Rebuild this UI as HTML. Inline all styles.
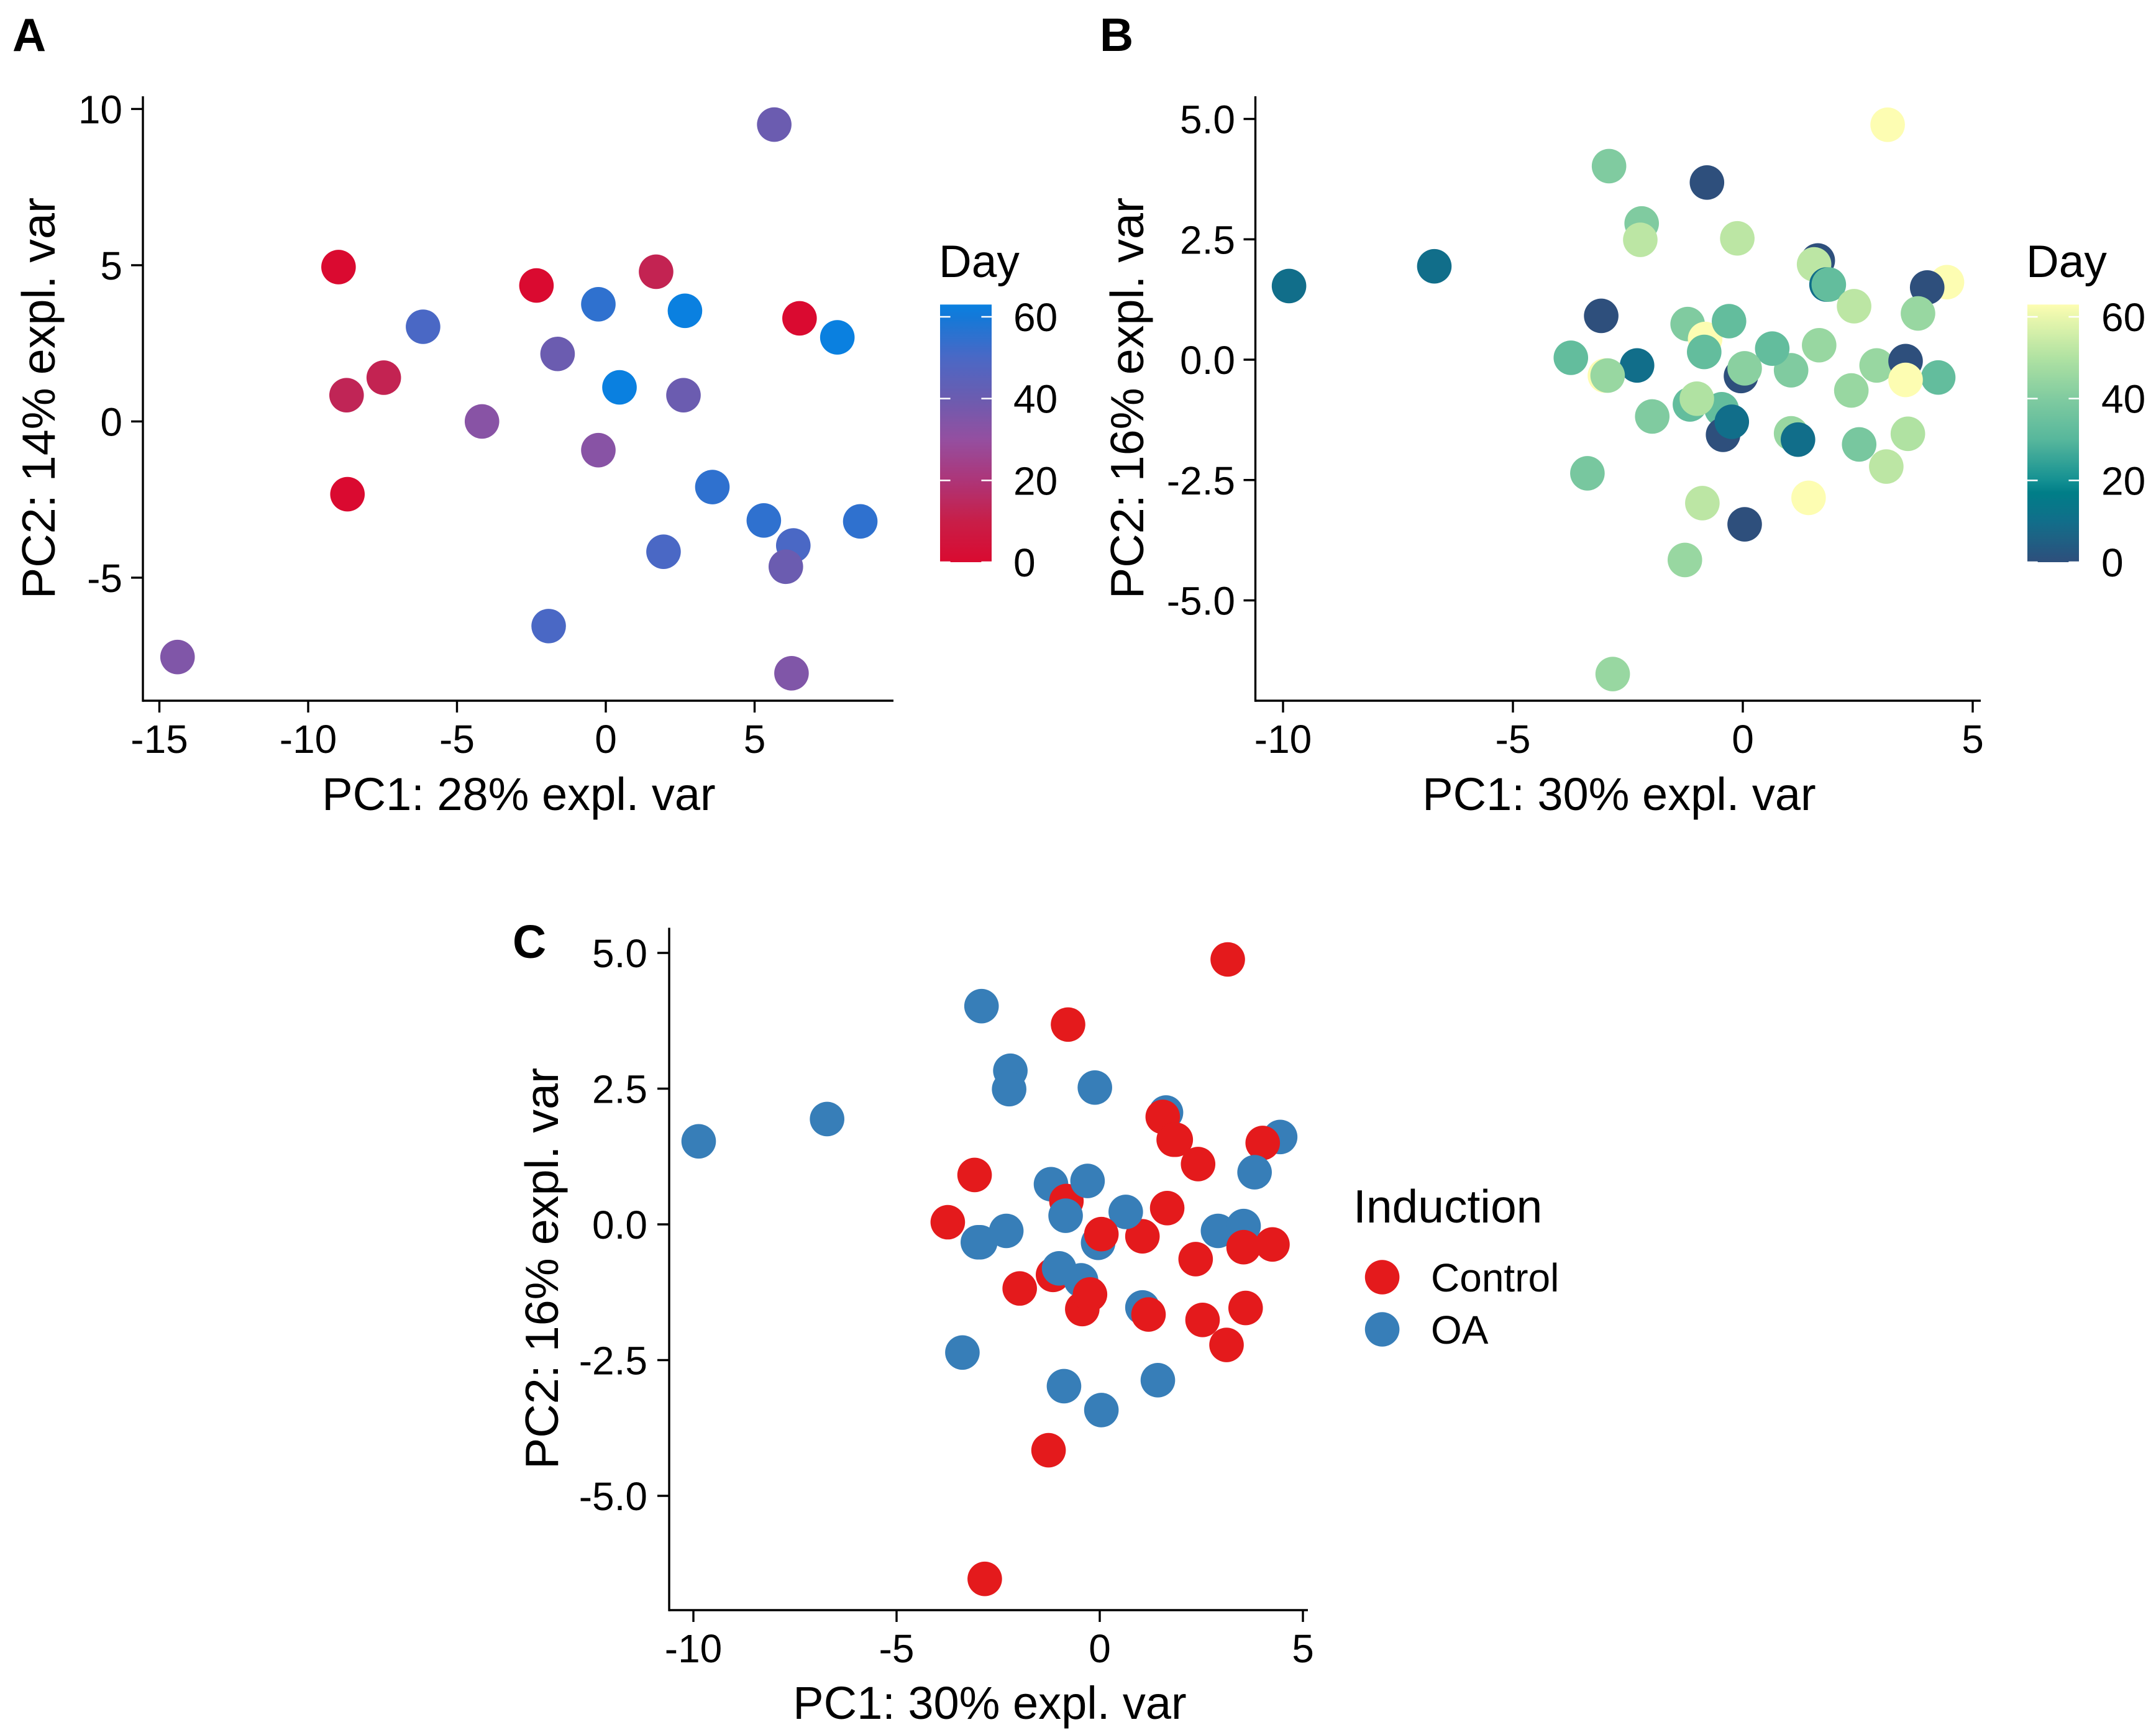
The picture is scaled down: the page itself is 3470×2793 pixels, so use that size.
<!DOCTYPE html>
<html lang="en">
<head>
<meta charset="utf-8">
<title>PCA panels</title>
<style>
html,body{margin:0;padding:0;background:#fff;}
svg{display:block;font-family:"Liberation Sans",Arial,sans-serif;}
</style>
</head>
<body>
<svg id="figure" xmlns="http://www.w3.org/2000/svg" width="3470" height="2793" viewBox="0 0 3470 2793">
<rect x="0" y="0" width="3470" height="2793" fill="#ffffff"/>
<defs id="defs"></defs>
</svg>
<script>
// ---- Panel A data ----
const aPc1 = [5.66,-8.98,-2.33,1.69,-0.25,2.66,6.51,7.78,-6.14,-1.62,-7.46,-8.71,0.46,2.61,-4.16,-0.25,-8.68,3.58,5.31,8.55,6.30,1.94,6.05,-1.92,-14.39,6.24];
const aPc2 = [9.50,4.94,4.35,4.79,3.75,3.54,3.30,2.69,3.03,2.16,1.40,0.84,1.09,0.84,0.00,-0.92,-2.33,-2.10,-3.17,-3.20,-3.97,-4.17,-4.65,-6.55,-7.54,-8.06];
const aDay = [40,0,0,12,55,63,0,63,50,40,12,13,63,40,33,33,0,55,55,55,50,50,40,50,35,35];
const aXTicks = [-15,-10,-5,0,5];
const aYTicks = [-5,0,5,10];

// ---- Panels B and C data (same PCA) ----
const bcPc1 = [3.15,-2.91,-0.78,-2.20,-2.23,-0.12,1.63,1.55,1.82,1.87,2.42,4.44,4.01,3.81,-3.08,-1.20,-0.82,-0.30,-0.84,1.05,0.64,1.66,-3.74,-2.30,-3.00,-2.94,-0.04,0.04,2.91,3.54,4.25,3.54,2.36,-1.97,-1.15,-0.46,-1.00,-0.43,-0.24,1.05,1.20,2.53,3.59,3.12,-3.38,-0.88,1.43,0.04,-1.26,-2.83,-6.71,-9.87];
const bcPc2 = [4.88,4.02,3.68,2.83,2.49,2.52,2.06,1.98,1.56,1.56,1.11,1.61,1.50,0.96,0.91,0.74,0.43,0.80,0.16,-0.22,0.23,0.30,0.04,-0.12,-0.33,-0.33,-0.34,-0.18,-0.12,-0.03,-0.37,-0.42,-0.64,-1.18,-0.93,-1.03,-0.81,-1.56,-1.29,-1.53,-1.66,-1.76,-1.54,-2.22,-2.36,-2.98,-2.87,-3.42,-4.16,-6.53,1.94,1.53];
const bDay = [63,40,0,40,52,52,0,52,10,33,52,63,0,45,0,40,63,33,33,40,33,45,33,10,63,45,0,42,45,0,33,63,45,40,33,33,50,0,10,45,10,38,50,52,38,52,63,0,45,45,10,10];
const cInduction = ["Control","OA","Control","OA","OA","OA","OA","Control","Control","Control","Control","OA","Control","OA","Control","OA","Control","OA","OA","Control","OA","Control","Control","OA","OA","OA","OA","Control","OA","OA","Control","Control","Control","Control","Control","OA","OA","Control","Control","OA","Control","Control","Control","Control","OA","OA","OA","OA","Control","Control","OA","OA"];
const bcXTicks = [-10,-5,0,5];
const bcYTicks = [-5,-2.5,0,2.5,5];

// ---- Legend data ----
const dayTicks = [0,20,40,60];
const dayMax = 63;
const inductionLevels = ["Control","OA"];

// ---- Colour ramps ----
const rampADays = [0,10,20,30,40,50,60,63];
const rampAColors = ["#da0a30","#c81e48","#ad3578","#944fa0","#6b5cb0","#4a68c5","#1479d8","#0a80e0"];
const rampBDays = [0,10,17,20,30,40,50,60,63];
const rampBColors = ["#2e4f7c","#116e8a","#007e88","#149092","#57b79c","#80cba0","#b0e2a2","#eaf7ad","#fdfdb2"];
const inductionColors = {Control:"#e41a1c",OA:"#377eb8"};

const NS = "http://www.w3.org/2000/svg";
const root = document.getElementById("figure");
const defs = document.getElementById("defs");

function add(parent, tag, attrs, text) {
  const el = document.createElementNS(NS, tag);
  for (const k in attrs) el.setAttribute(k, attrs[k]);
  if (text !== undefined) el.textContent = text;
  parent.appendChild(el);
  return el;
}
function hexToRgb(h){ return [1,3,5].map(i => parseInt(h.substr(i,2),16)); }
function rampColor(days, colors, d) {
  if (d <= days[0]) return colors[0];
  for (let i = 1; i < days.length; i++) {
    if (d <= days[i]) {
      const t = (d - days[i-1]) / (days[i] - days[i-1]);
      const a = hexToRgb(colors[i-1]), b = hexToRgb(colors[i]);
      return "rgb(" + a.map((v,j) => Math.round(v + (b[j]-v)*t)).join(",") + ")";
    }
  }
  return colors[colors.length-1];
}

const AXIS_W = 3.4, TICK_LEN = 19, TICK_FS = 64, XTITLE_FS = 74, YTITLE_FS = 75.5, DOT_R = 27.8;

function drawAxes(g, p) {
  const xLine = add(g, "line", {x1:p.left, x2:p.right, y1:p.bottom, y2:p.bottom, stroke:"#000", "stroke-width":AXIS_W});
  
  
  const yLine = add(g, "line", {x1:p.left, x2:p.left, y1:p.top, y2:p.bottom + AXIS_W/2, stroke:"#000", "stroke-width":AXIS_W});
  
  

  p.xTicks.forEach(v => {
    const x = p.sx(v);
    const t = add(g, "line", {x1:x, x2:x, y1:p.bottom, y2:p.bottom + TICK_LEN, stroke:"#000", "stroke-width":AXIS_W});
    
    
    const l = add(g, "text", {x:x, y:p.xLabelY, "text-anchor":"middle", "font-size":TICK_FS, fill:"#000"}, String(v));
    
    
  });
  p.yTicks.forEach(v => {
    const y = p.sy(v);
    const t = add(g, "line", {x1:p.left - TICK_LEN, x2:p.left, y1:y, y2:y, stroke:"#000", "stroke-width":AXIS_W});
    
    
    const l = add(g, "text", {x:p.yLabelX, y:y + 23, "text-anchor":"end", "font-size":TICK_FS, fill:"#000"}, p.yFmt(v));
    
    
  });

  const xt = add(g, "text", {x:p.xTitleX, y:p.xTitleY, "text-anchor":"middle", "font-size":XTITLE_FS, fill:"#000"}, p.xTitle);
  
  
  const yt = add(g, "text", {x:0, y:0, "text-anchor":"middle", "font-size":YTITLE_FS, fill:"#000",
    transform:"translate(" + p.yTitleX + "," + p.yTitleY + ") rotate(-90)"}, p.yTitle);
  
  

  const tag = add(g, "text", {x:p.tagX, y:p.tagY, "font-size":75, "font-weight":"bold", fill:"#000"}, p.tag);
  
  
}

function drawColorbar(g, gradId, days, colors, barX, labelX, titleX) {
  const sy = d => 905 - 6.583 * d;
  const BAR_W = 83;
  const grad = add(defs, "linearGradient", {id:gradId, x1:0, y1:1, x2:0, y2:0});
  for (let d = 0; d <= dayMax; d++) {
    add(grad, "stop", {offset:(d/dayMax), "stop-color":rampColor(days, colors, d)});
  }
  const title = add(g, "text", {x:titleX, y:446, "font-size":73, fill:"#000"}, "Day");
  
  
  const bar = add(g, "rect", {x:barX, y:sy(dayMax), width:BAR_W, height:sy(0) - sy(dayMax), fill:"url(#" + gradId + ")"});
  
  
  dayTicks.forEach(d => {
    const y = sy(d);
    const t1 = add(g, "line", {x1:barX, x2:barX + 16.6, y1:y, y2:y, stroke:"#fff", "stroke-width":2.5});
    
    
    const t2 = add(g, "line", {x1:barX + BAR_W - 16.6, x2:barX + BAR_W, y1:y, y2:y, stroke:"#fff", "stroke-width":2.5});
    
    
    const l = add(g, "text", {x:labelX - 2, y:y + 23, "font-size":TICK_FS, fill:"#000"}, String(d));
    
    
  });
}

// ---- Panel A ----
const panelA = add(root, "g", {});


const axA = v => 975 + 47.9 * v;
const ayA = v => 678.4 - 50.3 * v;
drawAxes(panelA, {left:230, right:1438, top:155, bottom:1128, sx:axA, sy:ayA, xTicks:aXTicks, yTicks:aYTicks,
  yFmt:v => String(v), xLabelY:1212, yLabelX:197, xTitle:"PC1: 28% expl. var", yTitle:"PC2: 14% expl. var",
  xTitleX:835, xTitleY:1304, yTitleX:88, yTitleY:641, tag:"A", tagX:20, tagY:82});
aPc1.forEach((x, i) => {
  const c = add(panelA, "circle", {cx:axA(x), cy:ayA(aPc2[i]), r:DOT_R, fill:rampColor(rampADays, rampAColors, aDay[i])});
  
  
});
drawColorbar(panelA, "gradA", rampADays, rampAColors, 1513, 1633, 1511);

// ---- Panel B ----
const panelB = add(root, "g", {});


const axB = v => 2805 + 74.0 * v;
const ayB = v => 579 - 77.5 * v;
drawAxes(panelB, {left:2020.5, right:3188, top:155, bottom:1128, sx:axB, sy:ayB, xTicks:bcXTicks, yTicks:bcYTicks,
  yFmt:v => v.toFixed(1), xLabelY:1212, yLabelX:1988, xTitle:"PC1: 30% expl. var", yTitle:"PC2: 16% expl. var",
  xTitleX:2606, xTitleY:1304, yTitleX:1840, yTitleY:641, tag:"B", tagX:1770, tagY:82});
bcPc1.forEach((x, i) => {
  const c = add(panelB, "circle", {cx:axB(x), cy:ayB(bcPc2[i]), r:DOT_R, fill:rampColor(rampBDays, rampBColors, bDay[i])});
  
  
});
drawColorbar(panelB, "gradB", rampBDays, rampBColors, 3263, 3384, 3261);

// ---- Panel C ----
const panelC = add(root, "g", {});


const axC = v => 1770 + 65.4 * v;
const ayC = v => 1971 - 87.4 * v;
drawAxes(panelC, {left:1077, right:2105, top:1493.5, bottom:2592, sx:axC, sy:ayC, xTicks:bcXTicks, yTicks:bcYTicks,
  yFmt:v => v.toFixed(1), xLabelY:2676, yLabelX:1042, xTitle:"PC1: 30% expl. var", yTitle:"PC2: 16% expl. var",
  xTitleX:1593, xTitleY:2767, yTitleX:898, yTitleY:2042, tag:"C", tagX:825, tagY:1542});
bcPc1.forEach((x, i) => {
  const c = add(panelC, "circle", {cx:axC(x), cy:ayC(bcPc2[i]), r:DOT_R, fill:inductionColors[cInduction[i]]});
  
  
});
const legendTitle = add(panelC, "text", {x:2178, y:1968, "font-size":75, fill:"#000"}, "Induction");


inductionLevels.forEach((lvl, i) => {
  const y = 2056 + 84 * i;
  const k = add(panelC, "circle", {cx:2224.6, cy:y, r:DOT_R, fill:inductionColors[lvl]});
  
  
  const t = add(panelC, "text", {x:2303, y:y + 23, "font-size":64, fill:"#000"}, lvl);
  
  
});
</script>
</body>
</html>
